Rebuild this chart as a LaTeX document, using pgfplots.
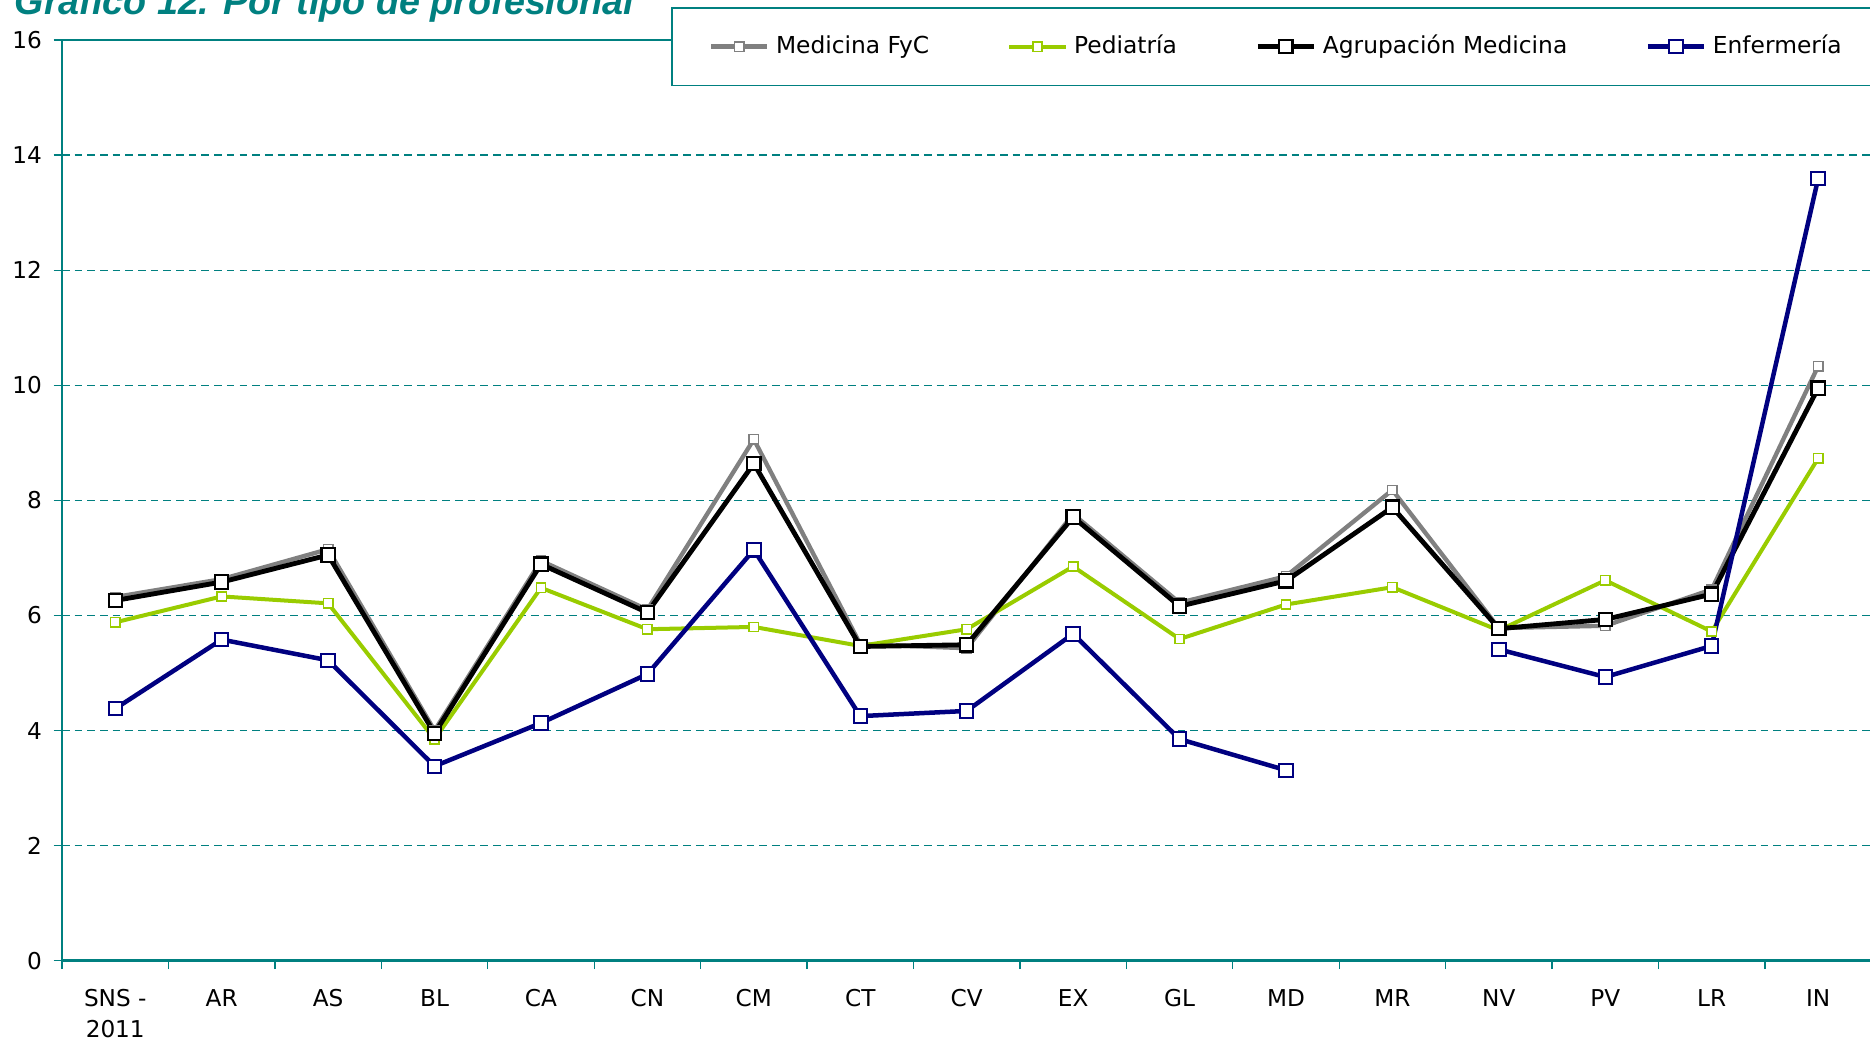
\documentclass[border=0pt]{standalone}
\usepackage{pgfplots}
\usepackage{pgfplotstable}
\pgfplotsset{compat=1.18}
\usepackage{fontspec}
\setmainfont{DejaVu Sans}
\newfontfamily\titlefont{Liberation Sans}
\definecolor{tealax}{RGB}{0,128,128}
\definecolor{medgray}{RGB}{128,128,128}
\definecolor{pedgreen}{RGB}{153,204,0}
\definecolor{enfnavy}{RGB}{0,0,128}

\pgfplotstableread{
x med ped agr enf
0  6.32 5.88 6.26 4.38
1  6.63 6.33 6.58 5.58
2  7.15 6.21 7.05 5.22
3  4.00 3.85 3.95 3.38
4  6.95 6.48 6.89 4.13
5  6.10 5.76 6.05 4.98
6  9.06 5.80 8.64 7.14
7  5.50 5.47 5.46 4.25
8  5.43 5.76 5.49 4.34
9  7.76 6.85 7.71 5.68
10 6.22 5.59 6.16 3.85
11 6.68 6.19 6.60 3.31
12 8.18 6.49 7.88 nan
13 5.78 5.74 5.77 5.41
14 5.82 6.61 5.93 4.93
15 6.45 5.72 6.37 5.47
16 10.33 8.73 9.95 13.59
}\datatable

\begin{document}
\begin{tikzpicture}
\begin{axis}[
  at={(0,0)}, anchor=south west,
  scale only axis, width=542.4pt, height=276pt,
  xmin=-0.5, xmax=16.5, ymin=0, ymax=16,
  axis line style={tealax, line width=0.8pt},
  tick pos=left, tick align=outside,
  ytick={0,2,...,16},
  major tick length=2.5pt, minor tick length=2.5pt,
  ytick style={tealax, line width=0.4pt},
  xtick={0,...,16},
  xticklabels={{SNS -\\2011},AR,AS,BL,CA,CN,CM,CT,CV,EX,GL,MD,MR,NV,PV,LR,IN},
  major x tick style={draw=none},
  minor xtick={-0.5,0.5,...,16.5},
  minor x tick style={tealax, line width=0.4pt},
  ymajorgrids,
  grid style={tealax, line width=0.4pt, dash pattern=on 2.3pt off 1.5pt},
  tick label style={font=\fontsize{6.95}{9.3}\selectfont, text=black},
  xticklabel style={align=center, yshift=-1.2pt},
  yticklabel style={yshift=-0.7pt},
  typeset ticklabels with strut,
  /pgf/number format/assume math mode=true,
  unbounded coords=jump,
  legend columns=4,
  legend cell align=left,
  legend style={at={(0.3368,1.0359)}, anchor=north west, draw=tealax, line width=0.5pt, fill=white,
    font=\fontsize{7.0}{8.3}\selectfont, inner xsep=11pt, inner ysep=6.1pt,
    /tikz/every even column/.append style={column sep=21.5pt}},
  legend image code/.code={\draw[mark repeat=2,mark phase=2,#1] plot coordinates {(0pt,0pt)(8.4pt,0pt)(16.8pt,0pt)};},
]
\addplot[medgray, line width=1.3pt, mark=square*, mark size=1.4pt, mark options={fill=white, draw=medgray, line width=0.45pt, solid}] table[x=x, y=med] {\datatable};
\addlegendentry{Medicina FyC}
\addplot[pedgreen, line width=1.2pt, mark=square*, mark size=1.4pt, mark options={fill=white, draw=pedgreen, line width=0.45pt, solid}] table[x=x, y=ped] {\datatable};
\addlegendentry{Pediatría}
\addplot[black, line width=1.45pt, mark=square*, mark size=2.0pt, mark options={fill=white, draw=black, line width=0.65pt, solid}] table[x=x, y=agr] {\datatable};
\addlegendentry{Agrupación Medicina}
\addplot[enfnavy, line width=1.35pt, mark=square*, mark size=2.0pt, mark options={fill=white, draw=enfnavy, line width=0.6pt, solid}] table[x=x, y=enf] {\datatable};
\addlegendentry{Enfermería}
\end{axis}
\node[anchor=base west, inner sep=0pt, text=tealax, font=\titlefont\bfseries\itshape\fontsize{11.3}{13}\selectfont] at (-14.4pt,283.5pt) {Gráfico 12. Por tipo de profesional};
\pgfresetboundingbox
\useasboundingbox (-18.6pt,-24.6pt) rectangle (542.0pt,288pt);
\end{tikzpicture}
\end{document}
